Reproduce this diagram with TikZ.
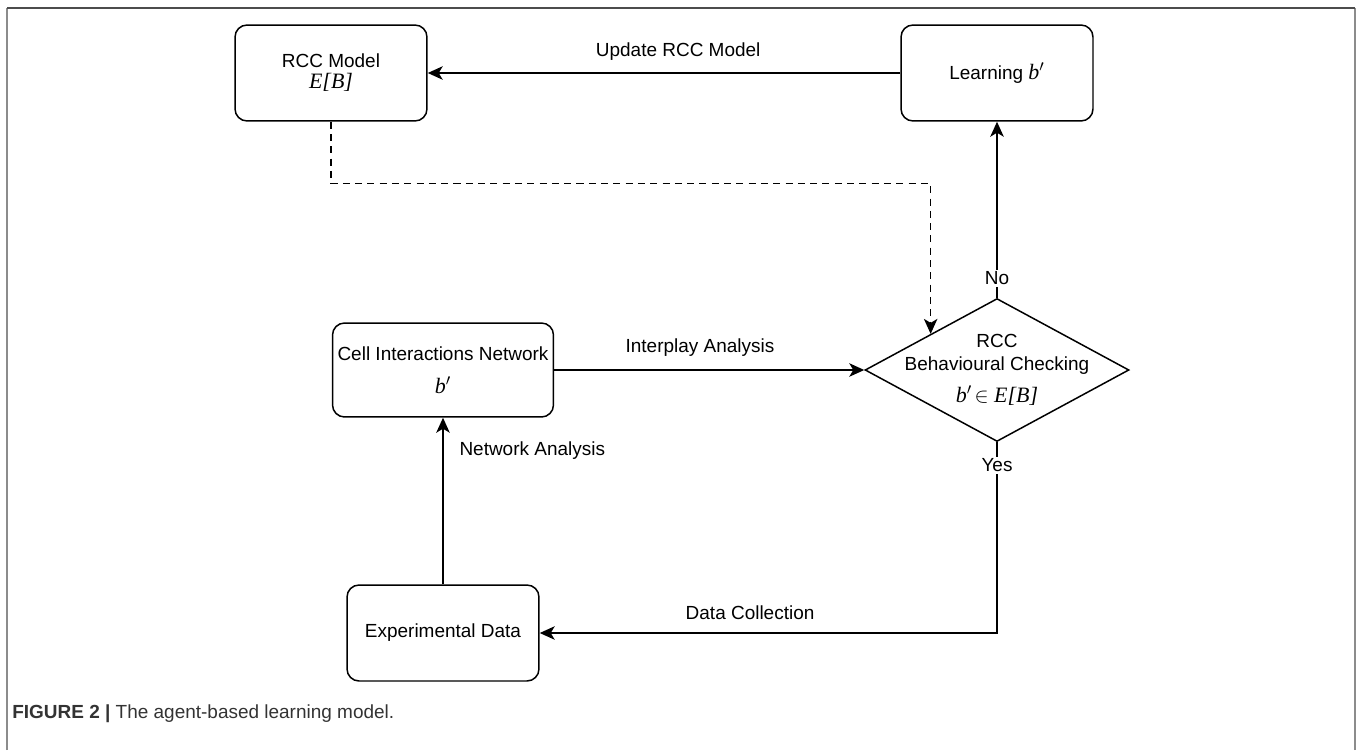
\documentclass[tikz,border=0pt]{standalone}
\usepackage{fontspec}
\setmainfont{Liberation Sans}
\newfontfamily\serifit{Liberation Serif}
\usetikzlibrary{shapes.geometric,arrows.meta,positioning}

\newcommand{\maths}[1]{{\serifit\itshape\fontsize{12.5}{14}\selectfont #1}}

\tikzset{
  boite/.style={draw, line width=0.85pt, rounded corners=0.24cm,
    minimum width=3.84cm, minimum height=1.92cm, align=center,
    inner sep=0pt, font=\fontsize{10.8}{13}\selectfont},
  fleche/.style={line width=0.85pt,
    -{Stealth[length=0.3cm,width=0.27cm,inset=0.08cm]}},
  etiq/.style={font=\fontsize{10.8}{13}\selectfont, inner sep=1pt},
}

\begin{document}
\begin{tikzpicture}[x=0.02cm, y=-0.02cm]

\useasboundingbox (0,0) rectangle (1358,750);

% cadre
\draw[line width=1.2pt, black!45] (7,750) -- (7,8);
\draw[line width=1.2pt, black!45] (1355,750) -- (1355,8);
\draw[line width=1.2pt, black!70] (7,8) -- (1355,8);

\node[boite] (rcc) at (331,73)
{RCC Model\\[-1pt]\maths{E[B]}};

\node[boite] (learn) at (997,73)
{Learning \maths{b$'$}};

\node[boite, minimum width=4.42cm, minimum height=1.88cm] (cell) at (443,370)
{Cell Interactions Network\\[6pt]\maths{b$'$}};

\node[boite] (exp) at (443,633)
{Experimental Data};

\node[diamond, draw, line width=0.85pt, inner sep=0pt,
  minimum width=5.28cm, minimum height=2.86cm,
  label={[etiq, align=center]center:RCC\\Behavioural Checking\\[5pt]\maths{b$'\!\in$ E[B]}}]
(chk) at (997,370) {};

\draw[fleche]
(learn)
--
node[etiq, pos=0.47, yshift=0.42cm] (upd) {Update RCC Model}
(rcc);

\draw[fleche]
(cell)
--
node[etiq, pos=0.47, yshift=0.44cm] (inter) {Interplay Analysis}
(chk);

\draw[fleche]
(exp)
--
node[etiq, pos=0.8, anchor=west, xshift=0.28cm] (netw) {Network Analysis}
(cell);

\draw[fleche]
(chk.north)
--
node[etiq, pos=0.11, fill=white] (no) {No}
(learn.south);

\draw[fleche]
(chk.south)
|-
node[etiq, pos=0.06, fill=white] (yes) {Yes}
node[etiq, pos=0.77, yshift=0.4cm] (coll) {Data Collection}
(exp);

% lien en pointillés
\draw[fleche, dash pattern=on 4pt off 3pt]
(rcc.south)
--
++(0,62)
-|
(chk.north west);

\node[anchor=west, inner sep=0pt, text=black!80, font=\fontsize{10.8}{13}\selectfont] (cap)
at (12,714)
{\textbf{FIGURE 2 |} The agent-based learning model.};

\end{tikzpicture}
\end{document}
